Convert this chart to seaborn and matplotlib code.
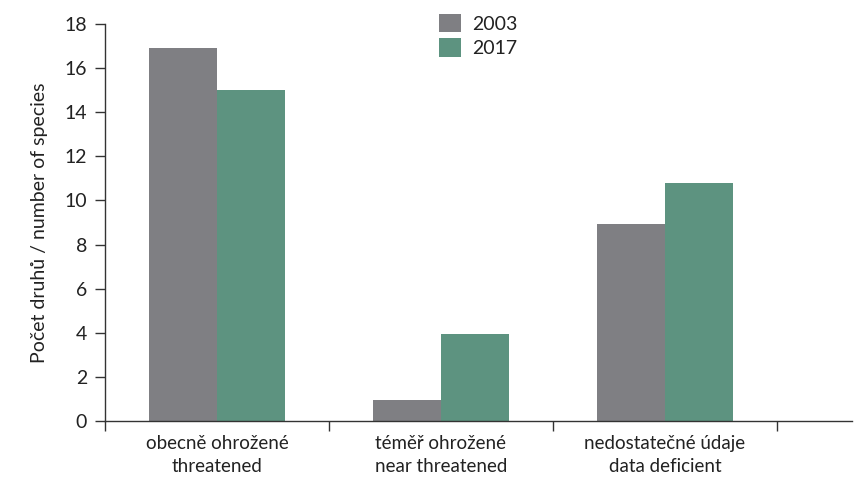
import numpy as np
import pandas as pd
import matplotlib
matplotlib.use('Agg')
import matplotlib.pyplot as plt
import seaborn as sns

# data
categories = ['obecně ohrožené\nthreatened', 'téměř ohrožené\nnear threatened',
              'nedostatečné údaje\ndata deficient']
years = ['2003', '2017']
values_2003 = [16.9, 0.93, 8.95]
values_2017 = [15.0, 3.95, 10.8]
colors = ['#7f7f83', '#5d9380']

df = pd.DataFrame({
    'kategorie': categories * 2,
    'rok': [years[0]] * 3 + [years[1]] * 3,
    'pocet': values_2003 + values_2017,
})

sns.set_theme(style='white')
plt.rcParams['font.family'] = ['Lato', 'DejaVu Sans']

fig = plt.figure(figsize=(8.64, 4.83), dpi=100)
ax = fig.add_axes([105 / 864, 1 - 421 / 483, (852 - 105) / 864, (421 - 24) / 483])

sns.barplot(data=df, x='kategorie', y='pocet', hue='rok', palette=colors,
            width=0.61, saturation=1, linewidth=0, ax=ax, legend=True)

ax.set_xlim(-0.5, 2.835)
ax.set_ylim(0, 18)
ax.set_yticks(np.arange(0, 19, 2))
ax.set_xticks([-0.5, 0.5, 1.5, 2.5])
ax.set_xticklabels([])
ax.set_xticks([0, 1, 2], minor=True)
ax.set_xticklabels(categories, minor=True, fontsize=13.5, color='#222222',
                   linespacing=1.45)
ax.tick_params(axis='x', which='minor', length=0, pad=10)
ax.tick_params(axis='x', which='major', length=7, width=1, color='#333333',
               direction='out', bottom=True)
ax.tick_params(axis='y', length=7, width=1, color='#333333', direction='out',
               left=True, labelsize=14, labelcolor='#222222', pad=6)

for s in ['top', 'right']:
    ax.spines[s].set_visible(False)
for s in ['left', 'bottom']:
    ax.spines[s].set_color('#333333')
    ax.spines[s].set_linewidth(1)

ax.set_xlabel('')
ax.set_ylabel('Počet druhů / number of species', fontsize=14, color='#222222', labelpad=12)

leg = ax.legend(loc='upper center', bbox_to_anchor=(0.5, 1.07), frameon=False,
                fontsize=14, handlelength=1.1, handleheight=1.1,
                handletextpad=0.6, labelspacing=0.3)
for t in leg.get_texts():
    t.set_color('#222222')

fig.savefig('out.png', dpi=100)
